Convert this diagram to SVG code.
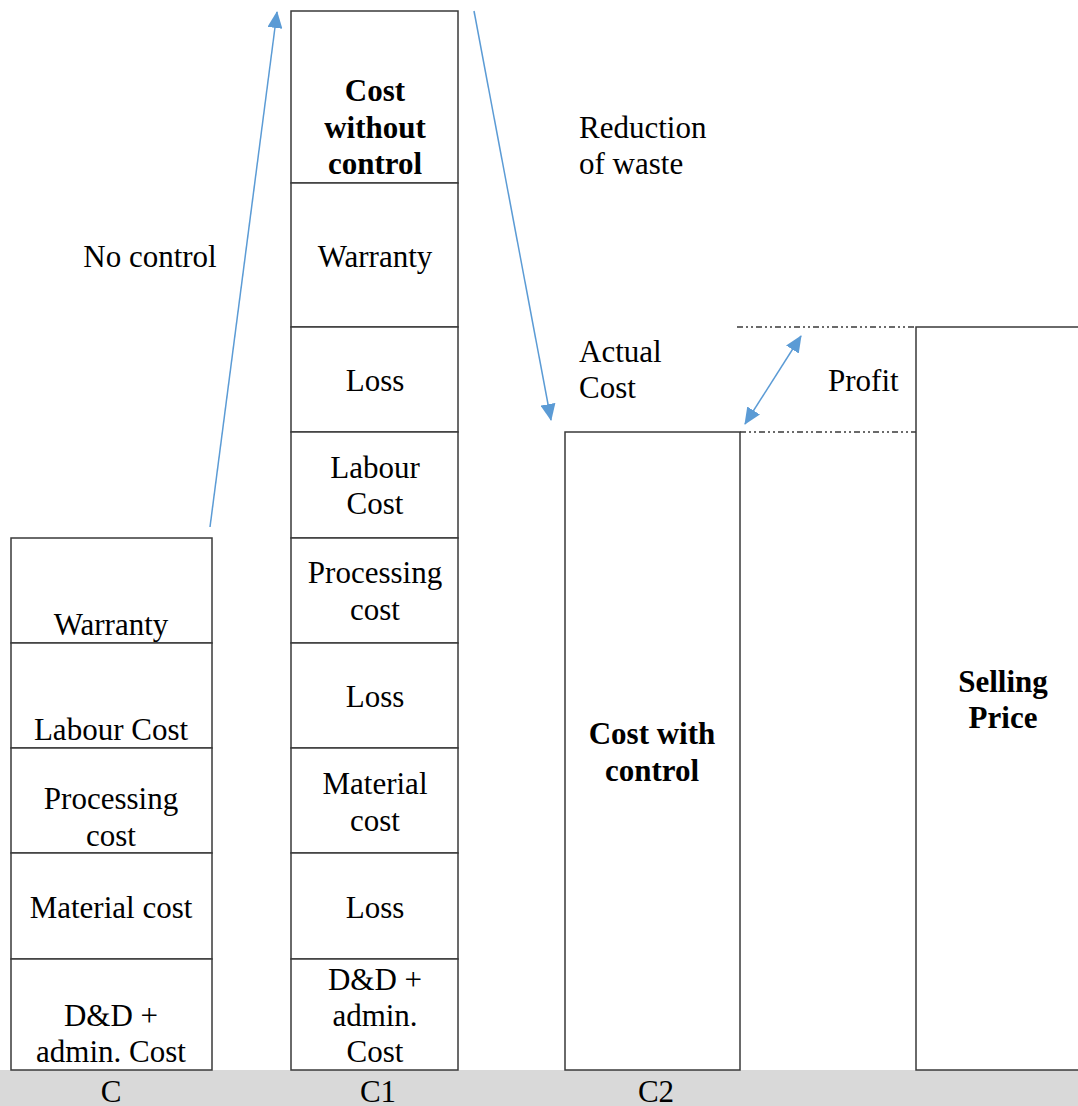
<svg xmlns="http://www.w3.org/2000/svg" width="1078" height="1106" viewBox="0 0 1078 1106">
<style>
.b{fill:#fff;stroke:#3a3a3a;stroke-width:1.5}
.t{font-family:"Liberation Serif","Times New Roman",serif;font-size:31px;fill:#000;text-anchor:middle}
.l{text-anchor:start}
.bd{font-weight:bold}
.a{stroke:#5b9bd5;stroke-width:1.5;fill:none}
.d{stroke:#3a3a3a;stroke-width:1.3;stroke-dasharray:6 3 2 3 2 3;fill:none}
</style>
<defs>
<marker id="ah2" viewBox="0 0 17 15" refX="16" refY="7.5" markerWidth="17" markerHeight="15" markerUnits="userSpaceOnUse" orient="auto-start-reverse"><path d="M0,0 L17,7.5 L0,15 z" fill="#5b9bd5"/></marker>
</defs>
<rect x="0" y="1070" width="1078" height="36" fill="#d9d9d9"/>
<g id="colC">
<rect class="b" x="11" y="538" width="201" height="105"/>
<rect class="b" x="11" y="643" width="201" height="105"/>
<rect class="b" x="11" y="748" width="201" height="105"/>
<rect class="b" x="11" y="853" width="201" height="106"/>
<rect class="b" x="11" y="959" width="201" height="111"/>
<text class="t" x="111" y="635">Warranty</text>
<text class="t" x="111" y="740">Labour Cost</text>
<text class="t" x="111" y="809">Processing</text>
<text class="t" x="111" y="846">cost</text>
<text class="t" x="111" y="918">Material cost</text>
<text class="t" x="111" y="1026">D&amp;D +</text>
<text class="t" x="111" y="1062">admin. Cost</text>
</g>
<g id="colC1">
<rect class="b" x="291" y="11" width="167" height="172"/>
<rect class="b" x="291" y="183" width="167" height="144"/>
<rect class="b" x="291" y="327" width="167" height="105"/>
<rect class="b" x="291" y="432" width="167" height="106"/>
<rect class="b" x="291" y="538" width="167" height="105"/>
<rect class="b" x="291" y="643" width="167" height="105"/>
<rect class="b" x="291" y="748" width="167" height="105"/>
<rect class="b" x="291" y="853" width="167" height="106"/>
<rect class="b" x="291" y="959" width="167" height="111"/>
<text class="t bd" x="375" y="101">Cost</text>
<text class="t bd" x="375" y="138">without</text>
<text class="t bd" x="375" y="174">control</text>
<text class="t" x="375" y="267">Warranty</text>
<text class="t" x="375" y="391">Loss</text>
<text class="t" x="375" y="478">Labour</text>
<text class="t" x="375" y="514">Cost</text>
<text class="t" x="375" y="583">Processing</text>
<text class="t" x="375" y="620">cost</text>
<text class="t" x="375" y="707">Loss</text>
<text class="t" x="375" y="794">Material</text>
<text class="t" x="375" y="831">cost</text>
<text class="t" x="375" y="918">Loss</text>
<text class="t" x="375" y="990">D&amp;D +</text>
<text class="t" x="375" y="1026">admin.</text>
<text class="t" x="375" y="1062">Cost</text>
</g>
<g id="colC2">
<rect class="b" x="565" y="432" width="175" height="638"/>
<text class="t bd" x="652" y="744">Cost with</text>
<text class="t bd" x="652" y="781">control</text>
</g>
<g id="selling">
<rect class="b" x="916" y="327" width="180" height="743"/>
<text class="t bd" x="1003" y="692">Selling</text>
<text class="t bd" x="1003" y="728">Price</text>
</g>
<g id="labels">
<text class="t" x="150" y="267">No control</text>
<text class="t l" x="579" y="138">Reduction</text>
<text class="t l" x="579" y="174">of waste</text>
<text class="t l" x="579" y="362">Actual</text>
<text class="t l" x="579" y="398">Cost</text>
<text class="t l" x="828" y="391">Profit</text>
<text class="t" x="111" y="1102">C</text>
<text class="t" x="378" y="1102">C1</text>
<text class="t" x="656" y="1102">C2</text>
</g>
<g id="connectors">
<line class="d" x1="737" y1="327" x2="916" y2="327"/>
<line class="d" x1="740" y1="432" x2="916" y2="432"/>
<line class="a" x1="210" y1="527" x2="277" y2="12" marker-end="url(#ah2)"/>
<line class="a" x1="474" y1="11" x2="551" y2="420" marker-end="url(#ah2)"/>
<line class="a" x1="745" y1="424" x2="801" y2="336" marker-start="url(#ah2)" marker-end="url(#ah2)"/>
</g>
</svg>
